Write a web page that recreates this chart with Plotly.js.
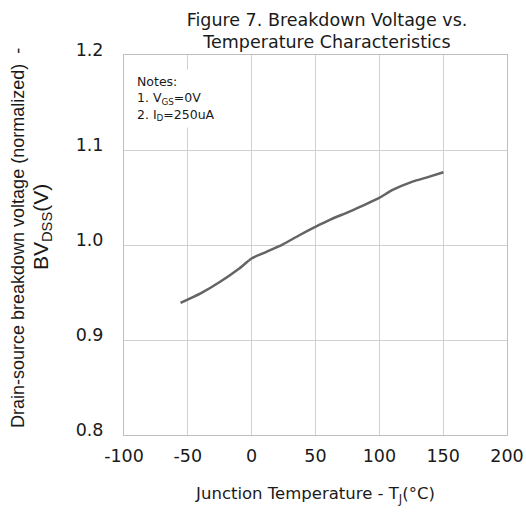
<!DOCTYPE html>
<html>
<head>
<meta charset="utf-8">
<script src="https://cdn.plot.ly/plotly-3.0.1.min.js"></script>
<style>html,body{margin:0;padding:0;background:#fff;}#chart{width:526px;height:512px;}</style>
</head>
<body>
<div id="chart"></div>
<script>
const temperature = [-55.7, -40, -25, -10, 0.2, 12, 24.5, 37, 50.2, 62, 75.2, 88, 100.2, 110.4, 126, 138, 150.2];
const bvNormalized = [0.939, 0.949, 0.961, 0.975, 0.986, 0.993, 1.0007, 1.010, 1.0193, 1.027, 1.0344, 1.042, 1.0498, 1.0579, 1.0667, 1.0715, 1.0765];
const xTicks = [-100, -50, 0, 50, 100, 150, 200];
const yTicks = [0.8, 0.9, 1.0, 1.1, 1.2];
const yTickLabels = ['0.8', '0.9', '1.0', '1.1', '1.2'];
const yTitleLine1 = 'Drain-source breakdown voltage (normalized)  -';
const yTitleLine2 = 'BV<sub>DSS</sub>(V)';

const wide = 'DejaVu Sans, Arial, sans-serif';
const narrow = 'Liberation Sans, Arial, sans-serif';
const ink = '#1a1a1a';
const data = [{
  x: temperature, y: bvNormalized, type: 'scatter', mode: 'lines',
  line: {color: '#646464', width: 2.5, shape: 'spline', smoothing: 0.6},
  hoverinfo: 'skip'
}];
const L = 124, R = 507, T = 55, B = 435;
const px2x = p => (p - L) / (R - L);
const px2y = p => (B - p) / (B - T);
const layout = {
  width: 526, height: 512,
  margin: {l: L, r: 526 - R, t: T, b: 512 - B},
  paper_bgcolor: '#ffffff', plot_bgcolor: '#ffffff',
  showlegend: false,
  font: {family: wide, size: 16, color: ink},
  title: {text: 'Figure 7. Breakdown Voltage vs.<br>Temperature Characteristics',
          font: {family: wide, size: 17.5, color: ink},
          xref: 'paper', x: 0.53, xanchor: 'center',
          yref: 'container', y: 0.95, yanchor: 'top'},
  xaxis: {range: [-100, 200], tickvals: xTicks, ticktext: xTicks.map(String),
          showgrid: true, gridcolor: '#d0d0d0', gridwidth: 1,
          zeroline: false, showline: true, linecolor: '#bfbfbf', linewidth: 1, mirror: true,
          ticks: '', ticklabelstandoff: 5,
          tickfont: {family: wide, size: 17.5, color: ink},
          title: {text: 'Junction Temperature - T<sub>J</sub>(°C)', standoff: 22,
                  font: {family: wide, size: 16.5, color: ink}}},
  yaxis: {range: [0.8, 1.2], tickvals: yTicks, ticktext: yTickLabels,
          showgrid: true, gridcolor: '#d0d0d0', gridwidth: 1,
          zeroline: false, showline: true, linecolor: '#bfbfbf', linewidth: 1, mirror: true,
          ticks: '', ticklabelstandoff: 16, ticklabelshift: -5,
          tickfont: {family: wide, size: 17.5, color: ink}},
  annotations: [{
    xref: 'paper', yref: 'paper', x: 0.02, y: 0.962, xanchor: 'left', yanchor: 'top',
    text: 'Notes:<br>1. V<sub>GS</sub>=0V<br>2. I<sub>D</sub>=250uA', align: 'left',
    showarrow: false, bgcolor: '#ffffff', borderpad: 4,
    font: {family: wide, size: 12.5, color: ink}
  }, {
    xref: 'paper', yref: 'paper', x: px2x(18), y: px2y(238), xanchor: 'center', yanchor: 'middle',
    text: yTitleLine1, textangle: -90, showarrow: false,
    font: {family: narrow, size: 18, color: ink}
  }, {
    xref: 'paper', yref: 'paper', x: px2x(42), y: px2y(227), xanchor: 'center', yanchor: 'middle',
    text: yTitleLine2, textangle: -90, showarrow: false,
    font: {family: narrow, size: 21, color: ink}
  }]
};
Plotly.newPlot('chart', data, layout, {displayModeBar: false, staticPlot: true});
</script>
</body>
</html>
